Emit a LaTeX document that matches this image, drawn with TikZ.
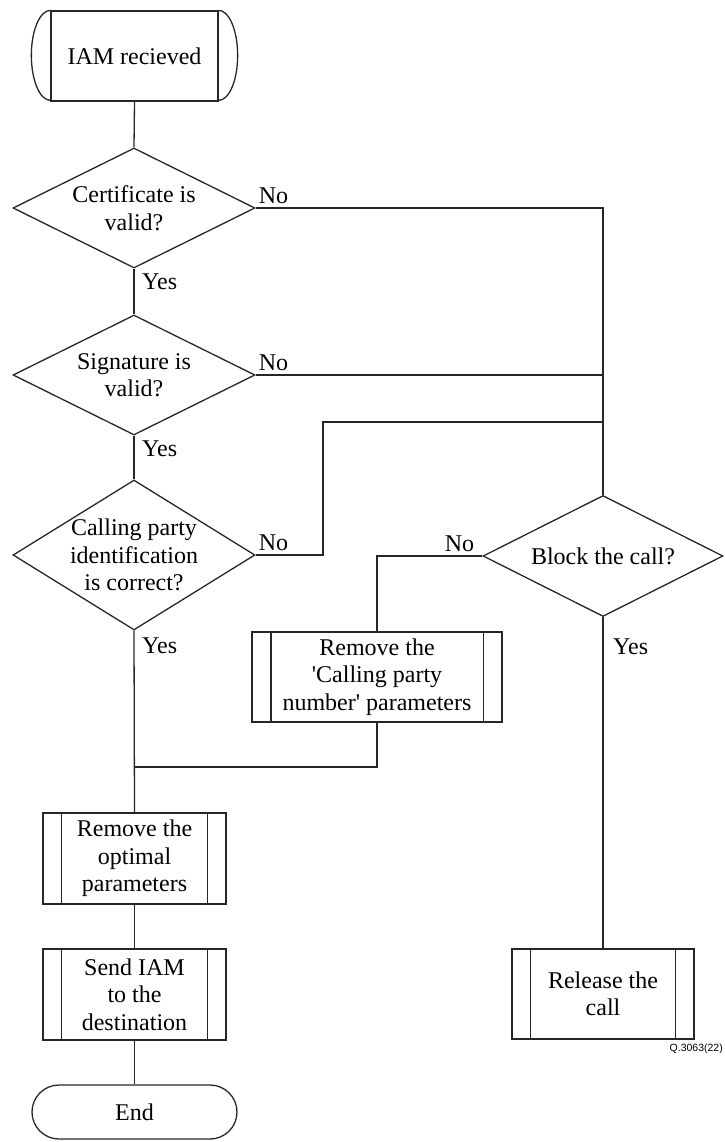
\documentclass[tikz,border=0pt]{standalone}
\usepackage{fontspec}
\setmainfont{Liberation Serif}
\newfontfamily\labelsans{Liberation Sans}
\usetikzlibrary{shapes.geometric}
\begin{document}
\begin{tikzpicture}[x=1pt,y=-1pt,
  every node/.style={font=\fontsize{24}{27.5}\selectfont},
  ln/.style={line width=1.3pt, draw=black!85},
  dec/.style={diamond, ln, draw, inner sep=0pt},
  proc/.style={rectangle, ln, draw, inner sep=0pt, align=center},
  term/.style={rectangle, ln, draw, inner sep=0pt, align=center},
  lbl/.style={inner sep=2pt, font=\fontsize{24}{27.5}\selectfont},
  conn/.style={ln}
]
\useasboundingbox (0,0) rectangle (724,1142);

% start terminal
\node[term, minimum width=167pt, minimum height=90pt] (start) at (134.5,56) {IAM recieved};
\draw[ln] (start.north west) arc[start angle=90, end angle=270, x radius=19pt, y radius=45pt];
\draw[ln] (start.north east) arc[start angle=90, end angle=-90, x radius=19pt, y radius=45pt];

% decisions
\node[dec, minimum width=242pt, minimum height=120pt,
  label={[align=center]center:{Certificate is\\valid?}}] (d1) at (134,208) {};
\node[dec, minimum width=242pt, minimum height=120pt,
  label={[align=center]center:{Signature is\\valid?}}] (d2) at (134,375) {};
\node[dec, minimum width=242pt, minimum height=150pt,
  label={[align=center]center:{Calling party\\identification\\is correct?}}] (d3) at (134,555) {};
\node[dec, minimum width=240pt, minimum height=121pt,
  label={center:{Block the call?}}] (blk) at (603,556) {};

% processes
\node[proc, minimum width=250pt, minimum height=90pt] (rmcp) at (377,677) {Remove the\\\textquotesingle Calling party\\number\textquotesingle{} parameters};
\node[proc, minimum width=183pt, minimum height=91pt] (rmopt) at (134.5,858.5) {Remove the\\optimal\\parameters};
\node[proc, minimum width=183pt, minimum height=91pt] (send) at (134.5,994.5) {Send IAM\\to the\\destination};
\node[proc, minimum width=182pt, minimum height=90pt] (rel) at (603,994) {Release the\\call};
\foreach \n/\s in {rmcp/19.5, rmopt/19, send/19, rel/19}{
  \draw[ln] ([xshift=\s pt]\n.north west) -- ([xshift=\s pt]\n.south west);
  \draw[ln] ([xshift=-\s pt]\n.north east) -- ([xshift=-\s pt]\n.south east);
}

% end terminal
\node[term, rounded corners=27pt, minimum width=205pt, minimum height=54pt] (end) at (134.5,1112) {End};

% coordinates
\coordinate (j3) at (603,422);
\coordinate (k3) at (323,555);
\coordinate (m) at (134,767);

% connectors
\draw[conn] (start.south) -- (d1.north);
\draw[conn] (d1.south) -- (d2.north);
\draw[conn] (d2.south) -- (d3.north);
\draw[conn] (d3.south) -- (rmopt.north);
\draw[conn] (rmopt.south) -- (send.north);
\draw[conn] (send.south) -- (end.north);
\draw[conn] (d1.east) -| (blk.north);
\draw[conn] (d2.east) -- (blk.north |- d2.east);
\draw[conn] (d3.east) -- (k3) |- (j3);
\draw[conn] (blk.west) -| (rmcp.north);
\draw[conn] (rmcp.south) |- (m);
\draw[conn] (blk.south) -- (rel.north);

% labels
\node[lbl, anchor=south west] at ([xshift=1pt,yshift=2pt]d1.east) {No};
\node[lbl, anchor=south west] at ([xshift=1pt,yshift=2pt]d2.east) {No};
\node[lbl, anchor=south west] at ([xshift=1pt,yshift=2pt]d3.east) {No};
\node[lbl, anchor=south east] at ([xshift=-6pt,yshift=2pt]blk.west) {No};
\node[lbl, anchor=north west] at ([xshift=6pt,yshift=-3pt]d1.south) {Yes};
\node[lbl, anchor=north west] at ([xshift=6pt,yshift=-3pt]d2.south) {Yes};
\node[lbl, anchor=north west] at ([xshift=6pt,yshift=-5pt]d3.south) {Yes};
\node[lbl, anchor=north west] at ([xshift=8pt,yshift=-19pt]blk.south) {Yes};

\node[inner sep=0pt, anchor=north east, font=\labelsans\fontsize{10.5}{12}\selectfont] (tag) at (723,1044) {Q.3063(22)};
\end{tikzpicture}
\end{document}
